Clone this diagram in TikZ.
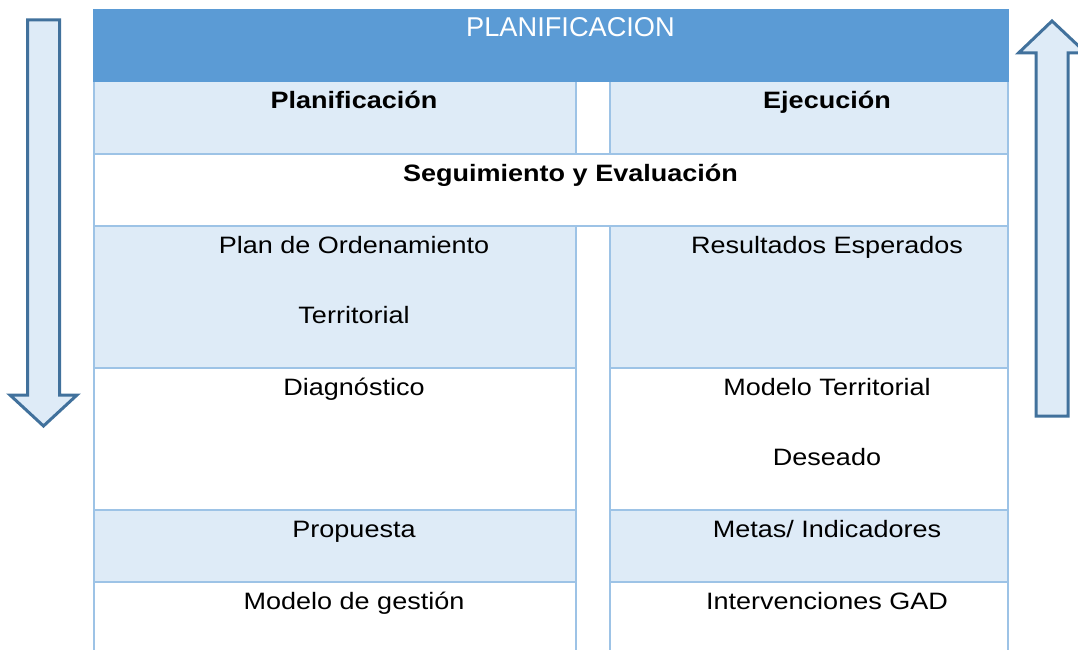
\documentclass[tikz,border=0pt]{standalone}
\usepackage{fontspec}
\setmainfont{Liberation Sans}[FakeStretch=1.14]
\newfontfamily\hdrfont{Liberation Sans}
\definecolor{hdrblue}{HTML}{5B9BD5}
\definecolor{cellblue}{HTML}{DEEBF7}
\definecolor{gridblue}{HTML}{9DC3E6}
\definecolor{arrowline}{HTML}{41719C}
\tikzset{
  cellfill/.style={fill=cellblue},
  gridline/.style={draw=gridblue, line width=2pt},
  txt/.style={anchor=base, inner sep=0pt, text=black, font=\fontsize{23.7}{28}\selectfont},
  btxt/.style={txt, font=\fontsize{23.7}{28}\selectfont\bfseries},
  hdrtxt/.style={anchor=base, inner sep=0pt, text=white, font=\hdrfont\fontsize{27.2}{32}\selectfont},
  blockarrow/.style={draw=arrowline, fill=cellblue, line width=3pt, line join=miter}
}
\begin{document}
\begin{tikzpicture}[x=1pt, y=-1pt]
\useasboundingbox (0,0) rectangle (1078,650);
\clip (0,0) rectangle (1078,650);
% header
\fill[hdrblue] (93,9) rectangle (1009,82);
% light cells
\fill[cellfill] (94,82) rectangle (576,154);
\fill[cellfill] (610,82) rectangle (1008,154);
\fill[cellfill] (94,226) rectangle (576,368);
\fill[cellfill] (610,226) rectangle (1008,368);
\fill[cellfill] (94,510) rectangle (576,582);
\fill[cellfill] (610,510) rectangle (1008,582);
% grid
\draw[gridline] (94,82) -- (94,650);
\draw[gridline] (1008,82) -- (1008,650);
\draw[gridline] (576,82) -- (576,154);
\draw[gridline] (610,82) -- (610,154);
\draw[gridline] (576,226) -- (576,650);
\draw[gridline] (610,226) -- (610,650);
\draw[gridline] (94,154) -- (1008,154);
\draw[gridline] (94,226) -- (1008,226);
\foreach \yy in {368,510,582} {
  \draw[gridline] (94,\yy) -- (576,\yy);
  \draw[gridline] (610,\yy) -- (1008,\yy);
}
% arrows
\draw[blockarrow] (27.5,20) -- (59.5,20) -- (59.5,395) -- (77,395) -- (43.5,426) -- (10,395) -- (27.5,395) -- cycle;
\draw[blockarrow] (1036,416) -- (1068,416) -- (1068,53) -- (1086,53) -- (1052,21) -- (1018.5,53) -- (1036,53) -- cycle;
% texts
\node[hdrtxt] (hdr) at (570.5,36.7) {PLANIFICACION};
\node[btxt] (plan) at (354,109) {Planificación};
\node[btxt] (ejec) at (827,109) {Ejecución};
\node[btxt] (seg) at (570.5,181) {Seguimiento y Evaluación};
\node[txt] (pot1) at (354,253) {Plan de Ordenamiento};
\node[txt] (pot2) at (354,323) {Territorial};
\node[txt] (res) at (827,253) {Resultados Esperados};
\node[txt] (diag) at (354,395) {Diagnóstico};
\node[txt] (mtd1) at (827,395) {Modelo Territorial};
\node[txt] (mtd2) at (827,465) {Deseado};
\node[txt] (prop) at (354,537) {Propuesta};
\node[txt] (metas) at (827,537) {Metas/ Indicadores};
\node[txt] (mg) at (354,609) {Modelo de gestión};
\node[txt] (gad) at (827,609) {Intervenciones GAD};
\end{tikzpicture}
\end{document}
